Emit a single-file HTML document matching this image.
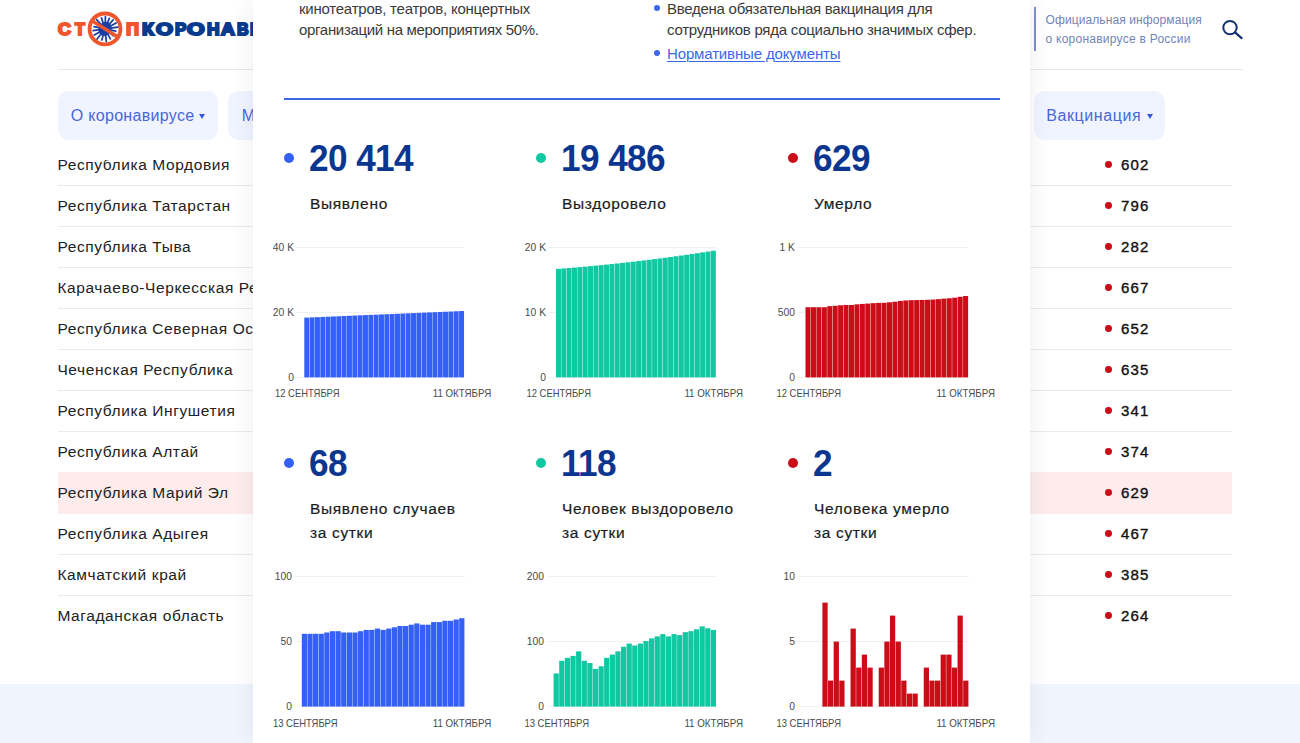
<!DOCTYPE html>
<html lang="ru"><head><meta charset="utf-8"><title>Стопкоронавирус</title>
<style>
*{margin:0;padding:0;box-sizing:border-box}
html,body{width:1300px;height:743px;overflow:hidden;background:#fff;font-family:"Liberation Sans",sans-serif;color:#222}
.abs,.page>*,.modal>*{position:absolute}
.page{position:relative;width:1300px;height:743px;overflow:hidden}
.lg{position:absolute;top:13.7px;font-size:16.5px;font-weight:700;line-height:30px;white-space:nowrap;-webkit-text-stroke:2px currentColor;transform-origin:0 50%}
.lg.o{color:#f0562e} .lg.b{color:#0a3a8c}
.hline{left:58px;top:69px;width:1185px;height:1px;background:#e8e8eb}
.vline{left:1034px;top:7px;width:2px;height:44px;background:#7a92c6}
.info{left:1045.5px;top:11.4px;font-size:12px;line-height:18.3px;color:#6f86b6;white-space:nowrap;letter-spacing:0.1px}
.btn{top:91px;height:49px;border-radius:11px;background:#f0f4fe;color:#4a66d8;font-size:16px;line-height:49px;white-space:nowrap}
.btn span{position:absolute;top:0}
.tri{position:absolute;width:0;height:0;border-left:3px solid transparent;border-right:3px solid transparent;border-top:5.5px solid #3558e0}
.row{left:58px;width:1174px;height:41px;border-bottom:1px solid #ebebee}
.row.last{border-bottom:none}
.row.hl{background:#fdeceb;border-bottom-color:#fdeceb;height:42px;margin-top:-1px}
.row.hl>*{margin-top:1px}
.rn{position:absolute;left:-0.6px;top:-0.8px;line-height:41px;font-size:15.5px;white-space:nowrap;color:#222;letter-spacing:0.6px}
.rd{position:absolute;left:1047.4px;top:16.4px;width:6.8px;height:6.8px;border-radius:50%;background:#cb0d18}
.rv{position:absolute;left:1063px;top:-0.8px;line-height:41px;font-size:15px;color:#111;-webkit-text-stroke:0.38px #111;letter-spacing:1.2px}
.footer{left:0;top:683.5px;width:1300px;height:60px;background:#f0f5fd}
.navcover{left:0;top:140px;width:1300px;height:20.2px;background:#fff}
.modal{left:253px;top:0;width:777px;height:743px;background:#fff;box-shadow:0 0 22px rgba(20,30,70,0.075)}
.mtxt{font-size:15px;line-height:21px;color:#3a3a3a;white-space:nowrap}
.bul{width:6px;height:6px;border-radius:50%;background:#3d67e8}
.bline{left:31px;top:98px;width:715.5px;height:2.4px;background:#3d67e8}
.lnk{color:#3d67e8;text-decoration:underline;text-underline-offset:2px;text-decoration-thickness:1px}
svg.ch{left:-253px;top:0}
.yl{font-size:10.3px;fill:#4a4a4a;font-family:"Liberation Sans",sans-serif}
.xl{font-size:10.3px;fill:#4a4a4a;font-family:"Liberation Sans",sans-serif}
.sd,.sn,.sl{position:absolute}
.sd{width:10px;height:10px;border-radius:50%}
.sn{font-size:36.5px;font-weight:700;line-height:40px;color:#0a368f;white-space:nowrap;letter-spacing:-0.6px;transform-origin:0 50%;transform:scaleX(0.963)}
.sl{font-size:15.5px;line-height:20px;color:#1c1c1c;white-space:nowrap;-webkit-text-stroke:0.2px #1c1c1c;letter-spacing:0.68px}
</style></head>
<body><div class="page">

<!-- header -->
<span class="lg o" style="left:58.18px;transform:scaleX(1.086)">С</span>
<span class="lg o" style="left:74.70px;transform:scaleX(0.978)">Т</span>
<span class="lg o" style="left:126.32px;transform:scaleX(1.097)">П</span>
<span class="lg b" style="left:142.23px;transform:scaleX(1.173)">К</span>
<span class="lg b" style="left:155.91px;transform:scaleX(1.325)">О</span>
<span class="lg b" style="left:175.01px;transform:scaleX(1.024)">Р</span>
<span class="lg b" style="left:187.12px;transform:scaleX(1.370)">О</span>
<span class="lg b" style="left:206.82px;transform:scaleX(1.055)">Н</span>
<span class="lg b" style="left:220.87px;transform:scaleX(1.155)">А</span>
<span class="lg b" style="left:236.91px;transform:scaleX(0.975)">В</span>
<span class="lg b" style="left:250.43px;transform:scaleX(1.104)">И</span>
<svg class="abs" style="left:86.4px;top:9.55px" width="38" height="38" viewBox="0 0 38 38">
  <g stroke="#1a3fa3" stroke-width="1.7" stroke-linecap="round">
    <line x1="19" y1="18.9" x2="19.43" y2="6.51"/><line x1="19" y1="18.9" x2="15.42" y2="7.87"/><line x1="19" y1="18.9" x2="10.44" y2="9.39"/><line x1="19" y1="18.9" x2="23.27" y2="8.33"/><line x1="19" y1="18.9" x2="27.16" y2="9.83"/><line x1="19" y1="18.9" x2="30.13" y2="12.98"/><line x1="19" y1="18.9" x2="31.77" y2="17.10"/><line x1="19" y1="18.9" x2="29.76" y2="21.19"/><line x1="19" y1="18.9" x2="7.12" y2="20.57"/><line x1="19" y1="18.9" x2="8.04" y2="16.57"/><line x1="19" y1="18.9" x2="8.26" y2="25.10"/><line x1="19" y1="18.9" x2="10.87" y2="29.30"/><line x1="19" y1="18.9" x2="15.80" y2="30.05"/><line x1="19" y1="18.9" x2="20.34" y2="31.63"/><line x1="19" y1="18.9" x2="24.35" y2="28.97"/><line x1="19" y1="18.9" x2="27.12" y2="25.71"/>
  </g>
  <ellipse cx="19" cy="18.9" rx="6.3" ry="7.3" transform="rotate(32 19 18.9)" fill="#1a3fa3"/>
  <circle cx="19" cy="18.9" r="15.45" fill="none" stroke="#f0562e" stroke-width="3.9"/>
  <line x1="6.02" y1="10.79" x2="31.98" y2="27.01" stroke="#f0562e" stroke-width="3.6"/>
</svg>
<div class="vline"></div>
<div class="info">Официальная информация<br><span style="letter-spacing:0.25px">о коронавирусе в России</span></div>
<svg class="abs" style="left:1220px;top:16px" width="28" height="28" viewBox="0 0 28 28"><circle cx="10" cy="11.6" r="6.7" fill="none" stroke="#12306f" stroke-width="2"/><line x1="15" y1="16.4" x2="21.6" y2="22.1" stroke="#12306f" stroke-width="2.2" stroke-linecap="round"/></svg>
<div class="hline"></div>

<!-- table rows -->
<div class="row" style="top:145px"><span class="rn">Республика Мордовия</span><i class="rd"></i><span class="rv">602</span></div>
<div class="row" style="top:186px"><span class="rn">Республика Татарстан</span><i class="rd"></i><span class="rv">796</span></div>
<div class="row" style="top:227px"><span class="rn">Республика Тыва</span><i class="rd"></i><span class="rv">282</span></div>
<div class="row" style="top:268px"><span class="rn">Карачаево-Черкесская Республика</span><i class="rd"></i><span class="rv">667</span></div>
<div class="row" style="top:309px"><span class="rn">Республика Северная Осетия</span><i class="rd"></i><span class="rv">652</span></div>
<div class="row" style="top:350px"><span class="rn">Чеченская Республика</span><i class="rd"></i><span class="rv">635</span></div>
<div class="row" style="top:391px"><span class="rn">Республика Ингушетия</span><i class="rd"></i><span class="rv">341</span></div>
<div class="row" style="top:432px"><span class="rn">Республика Алтай</span><i class="rd"></i><span class="rv">374</span></div>
<div class="row hl" style="top:473px"><span class="rn">Республика Марий Эл</span><i class="rd"></i><span class="rv">629</span></div>
<div class="row" style="top:514px"><span class="rn">Республика Адыгея</span><i class="rd"></i><span class="rv">467</span></div>
<div class="row" style="top:555px"><span class="rn">Камчатский край</span><i class="rd"></i><span class="rv">385</span></div>
<div class="row last" style="top:596px"><span class="rn">Магаданская область</span><i class="rd"></i><span class="rv">264</span></div>
<div class="navcover"></div>

<!-- nav -->
<div class="btn" style="left:58px;width:160px"><span style="left:12.7px;letter-spacing:0.32px">О коронавирусе</span><i class="tri" style="left:141.3px;top:23px"></i></div>
<div class="btn" style="left:228px;width:160px"><span style="left:13.7px">Меры</span></div>
<div class="btn" style="left:1034px;width:131px"><span style="left:12.3px;letter-spacing:0.58px">Вакцинация</span><i class="tri" style="left:112.5px;top:23px"></i></div>

<div class="footer"></div>

<!-- modal -->
<div class="modal">
  <div class="mtxt" style="left:46px;top:-2px;letter-spacing:-0.235px">кинотеатров, театров, концертных<br><span style="letter-spacing:-0.32px">организаций на мероприятиях 50%.</span></div>
  <i class="bul" style="left:400.7px;top:5.1px"></i>
  <i class="bul" style="left:400.7px;top:50.1px"></i>
  <div class="mtxt" style="left:414px;top:-2px;letter-spacing:-0.265px">Введена обязательная вакцинация для<br><span style="letter-spacing:-0.245px">сотрудников ряда социально значимых сфер.</span></div>
  <div class="mtxt lnk" style="left:414px;top:43px;letter-spacing:-0.14px">Нормативные документы</div>
  <div class="bline"></div>
  <svg class="ch" width="1300" height="743" viewBox="0 0 1300 743">
<rect x="296.3" y="376.9" width="168.1" height="1" fill="#efefef"/>
<text x="294.0" y="381.0" text-anchor="end" class="yl">0</text>
<rect x="296.3" y="311.9" width="168.1" height="1" fill="#efefef"/>
<text x="294.0" y="316.0" text-anchor="end" class="yl">20 K</text>
<rect x="296.3" y="246.9" width="168.1" height="1" fill="#efefef"/>
<text x="294.0" y="251.0" text-anchor="end" class="yl">40 K</text>
<rect x="304.30" y="317.60" width="4.96" height="59.80" fill="#3560f6"/>
<rect x="309.64" y="317.37" width="4.96" height="60.03" fill="#3560f6"/>
<rect x="314.97" y="317.15" width="4.96" height="60.25" fill="#3560f6"/>
<rect x="320.31" y="316.92" width="4.96" height="60.48" fill="#3560f6"/>
<rect x="325.65" y="316.70" width="4.96" height="60.70" fill="#3560f6"/>
<rect x="330.98" y="316.47" width="4.96" height="60.93" fill="#3560f6"/>
<rect x="336.32" y="316.25" width="4.96" height="61.15" fill="#3560f6"/>
<rect x="341.66" y="316.02" width="4.96" height="61.38" fill="#3560f6"/>
<rect x="346.99" y="315.79" width="4.96" height="61.61" fill="#3560f6"/>
<rect x="352.33" y="315.57" width="4.96" height="61.83" fill="#3560f6"/>
<rect x="357.67" y="315.34" width="4.96" height="62.06" fill="#3560f6"/>
<rect x="363.00" y="315.12" width="4.96" height="62.28" fill="#3560f6"/>
<rect x="368.34" y="314.89" width="4.96" height="62.51" fill="#3560f6"/>
<rect x="373.68" y="314.67" width="4.96" height="62.73" fill="#3560f6"/>
<rect x="379.01" y="314.44" width="4.96" height="62.96" fill="#3560f6"/>
<rect x="384.35" y="314.21" width="4.96" height="63.19" fill="#3560f6"/>
<rect x="389.69" y="313.99" width="4.96" height="63.41" fill="#3560f6"/>
<rect x="395.02" y="313.76" width="4.96" height="63.64" fill="#3560f6"/>
<rect x="400.36" y="313.54" width="4.96" height="63.86" fill="#3560f6"/>
<rect x="405.70" y="313.31" width="4.96" height="64.09" fill="#3560f6"/>
<rect x="411.03" y="313.09" width="4.96" height="64.31" fill="#3560f6"/>
<rect x="416.37" y="312.86" width="4.96" height="64.54" fill="#3560f6"/>
<rect x="421.71" y="312.63" width="4.96" height="64.77" fill="#3560f6"/>
<rect x="427.04" y="312.41" width="4.96" height="64.99" fill="#3560f6"/>
<rect x="432.38" y="312.18" width="4.96" height="65.22" fill="#3560f6"/>
<rect x="437.72" y="311.96" width="4.96" height="65.44" fill="#3560f6"/>
<rect x="443.05" y="311.73" width="4.96" height="65.67" fill="#3560f6"/>
<rect x="448.39" y="311.51" width="4.96" height="65.89" fill="#3560f6"/>
<rect x="453.73" y="311.28" width="4.96" height="66.12" fill="#3560f6"/>
<rect x="459.06" y="311.05" width="4.96" height="66.35" fill="#3560f6"/>
<text x="275.0" y="397.3" class="xl" textLength="64.5" lengthAdjust="spacingAndGlyphs">12 СЕНТЯБРЯ</text>
<text x="491.3" y="397.3" class="xl" text-anchor="end" textLength="58.6" lengthAdjust="spacingAndGlyphs">11 ОКТЯБРЯ</text>
<rect x="548.0" y="376.9" width="168.2" height="1" fill="#efefef"/>
<text x="546.0" y="381.0" text-anchor="end" class="yl">0</text>
<rect x="548.0" y="311.9" width="168.2" height="1" fill="#efefef"/>
<text x="546.0" y="316.0" text-anchor="end" class="yl">10 K</text>
<rect x="548.0" y="246.9" width="168.2" height="1" fill="#efefef"/>
<text x="546.0" y="251.0" text-anchor="end" class="yl">20 K</text>
<rect x="556.00" y="268.85" width="4.96" height="108.55" fill="#10c8a2"/>
<rect x="561.34" y="268.44" width="4.96" height="108.96" fill="#10c8a2"/>
<rect x="566.68" y="268.01" width="4.96" height="109.39" fill="#10c8a2"/>
<rect x="572.02" y="267.56" width="4.96" height="109.84" fill="#10c8a2"/>
<rect x="577.36" y="267.11" width="4.96" height="110.29" fill="#10c8a2"/>
<rect x="582.70" y="266.63" width="4.96" height="110.77" fill="#10c8a2"/>
<rect x="588.04" y="266.14" width="4.96" height="111.26" fill="#10c8a2"/>
<rect x="593.38" y="265.64" width="4.96" height="111.76" fill="#10c8a2"/>
<rect x="598.72" y="265.12" width="4.96" height="112.28" fill="#10c8a2"/>
<rect x="604.06" y="264.59" width="4.96" height="112.81" fill="#10c8a2"/>
<rect x="609.40" y="264.04" width="4.96" height="113.36" fill="#10c8a2"/>
<rect x="614.74" y="263.47" width="4.96" height="113.93" fill="#10c8a2"/>
<rect x="620.08" y="262.89" width="4.96" height="114.51" fill="#10c8a2"/>
<rect x="625.42" y="262.30" width="4.96" height="115.10" fill="#10c8a2"/>
<rect x="630.76" y="261.69" width="4.96" height="115.71" fill="#10c8a2"/>
<rect x="636.10" y="261.07" width="4.96" height="116.33" fill="#10c8a2"/>
<rect x="641.44" y="260.43" width="4.96" height="116.97" fill="#10c8a2"/>
<rect x="646.78" y="259.77" width="4.96" height="117.63" fill="#10c8a2"/>
<rect x="652.12" y="259.10" width="4.96" height="118.30" fill="#10c8a2"/>
<rect x="657.46" y="258.42" width="4.96" height="118.98" fill="#10c8a2"/>
<rect x="662.80" y="257.72" width="4.96" height="119.68" fill="#10c8a2"/>
<rect x="668.14" y="257.00" width="4.96" height="120.40" fill="#10c8a2"/>
<rect x="673.48" y="256.27" width="4.96" height="121.13" fill="#10c8a2"/>
<rect x="678.82" y="255.53" width="4.96" height="121.87" fill="#10c8a2"/>
<rect x="684.16" y="254.77" width="4.96" height="122.63" fill="#10c8a2"/>
<rect x="689.50" y="253.99" width="4.96" height="123.41" fill="#10c8a2"/>
<rect x="694.84" y="253.20" width="4.96" height="124.20" fill="#10c8a2"/>
<rect x="700.18" y="252.40" width="4.96" height="125.00" fill="#10c8a2"/>
<rect x="705.52" y="251.58" width="4.96" height="125.82" fill="#10c8a2"/>
<rect x="710.86" y="250.74" width="4.96" height="126.66" fill="#10c8a2"/>
<text x="526.5" y="397.3" class="xl" textLength="64.5" lengthAdjust="spacingAndGlyphs">12 СЕНТЯБРЯ</text>
<text x="743.0" y="397.3" class="xl" text-anchor="end" textLength="58.6" lengthAdjust="spacingAndGlyphs">11 ОКТЯБРЯ</text>
<rect x="797.5" y="376.9" width="171.0" height="1" fill="#efefef"/>
<text x="795.0" y="381.0" text-anchor="end" class="yl">0</text>
<rect x="797.5" y="311.9" width="171.0" height="1" fill="#efefef"/>
<text x="795.0" y="316.0" text-anchor="end" class="yl">500</text>
<rect x="797.5" y="246.9" width="171.0" height="1" fill="#efefef"/>
<text x="795.0" y="251.0" text-anchor="end" class="yl">1 K</text>
<rect x="805.50" y="307.20" width="5.05" height="70.20" fill="#cb0d18"/>
<rect x="810.93" y="307.20" width="5.05" height="70.20" fill="#cb0d18"/>
<rect x="816.37" y="307.20" width="5.05" height="70.20" fill="#cb0d18"/>
<rect x="821.80" y="307.20" width="5.05" height="70.20" fill="#cb0d18"/>
<rect x="827.23" y="306.16" width="5.05" height="71.24" fill="#cb0d18"/>
<rect x="832.67" y="305.77" width="5.05" height="71.63" fill="#cb0d18"/>
<rect x="838.10" y="305.25" width="5.05" height="72.15" fill="#cb0d18"/>
<rect x="843.53" y="304.99" width="5.05" height="72.41" fill="#cb0d18"/>
<rect x="848.97" y="304.99" width="5.05" height="72.41" fill="#cb0d18"/>
<rect x="854.40" y="304.34" width="5.05" height="73.06" fill="#cb0d18"/>
<rect x="859.83" y="303.95" width="5.05" height="73.45" fill="#cb0d18"/>
<rect x="865.27" y="303.56" width="5.05" height="73.84" fill="#cb0d18"/>
<rect x="870.70" y="303.17" width="5.05" height="74.23" fill="#cb0d18"/>
<rect x="876.13" y="302.91" width="5.05" height="74.49" fill="#cb0d18"/>
<rect x="881.57" y="302.78" width="5.05" height="74.62" fill="#cb0d18"/>
<rect x="887.00" y="302.26" width="5.05" height="75.14" fill="#cb0d18"/>
<rect x="892.43" y="301.74" width="5.05" height="75.66" fill="#cb0d18"/>
<rect x="897.87" y="300.96" width="5.05" height="76.44" fill="#cb0d18"/>
<rect x="903.30" y="300.44" width="5.05" height="76.96" fill="#cb0d18"/>
<rect x="908.73" y="300.18" width="5.05" height="77.22" fill="#cb0d18"/>
<rect x="914.17" y="300.05" width="5.05" height="77.35" fill="#cb0d18"/>
<rect x="919.60" y="299.92" width="5.05" height="77.48" fill="#cb0d18"/>
<rect x="925.03" y="299.79" width="5.05" height="77.61" fill="#cb0d18"/>
<rect x="930.47" y="299.53" width="5.05" height="77.87" fill="#cb0d18"/>
<rect x="935.90" y="299.14" width="5.05" height="78.26" fill="#cb0d18"/>
<rect x="941.33" y="298.62" width="5.05" height="78.78" fill="#cb0d18"/>
<rect x="946.77" y="298.23" width="5.05" height="79.17" fill="#cb0d18"/>
<rect x="952.20" y="297.71" width="5.05" height="79.69" fill="#cb0d18"/>
<rect x="957.63" y="296.80" width="5.05" height="80.60" fill="#cb0d18"/>
<rect x="963.07" y="296.02" width="5.05" height="81.38" fill="#cb0d18"/>
<text x="776.5" y="397.3" class="xl" textLength="64.5" lengthAdjust="spacingAndGlyphs">12 СЕНТЯБРЯ</text>
<text x="995.0" y="397.3" class="xl" text-anchor="end" textLength="58.6" lengthAdjust="spacingAndGlyphs">11 ОКТЯБРЯ</text>
<rect x="296.3" y="706.1" width="168.5" height="1" fill="#efefef"/>
<text x="292.0" y="710.2" text-anchor="end" class="yl">0</text>
<rect x="296.3" y="641.1" width="168.5" height="1" fill="#efefef"/>
<text x="292.0" y="645.2" text-anchor="end" class="yl">50</text>
<rect x="296.3" y="576.1" width="168.5" height="1" fill="#efefef"/>
<text x="292.0" y="580.2" text-anchor="end" class="yl">100</text>
<rect x="301.80" y="633.80" width="5.24" height="72.80" fill="#3560f6"/>
<rect x="307.42" y="633.80" width="5.24" height="72.80" fill="#3560f6"/>
<rect x="313.04" y="633.80" width="5.24" height="72.80" fill="#3560f6"/>
<rect x="318.66" y="633.80" width="5.24" height="72.80" fill="#3560f6"/>
<rect x="324.28" y="632.50" width="5.24" height="74.10" fill="#3560f6"/>
<rect x="329.90" y="631.20" width="5.24" height="75.40" fill="#3560f6"/>
<rect x="335.52" y="631.20" width="5.24" height="75.40" fill="#3560f6"/>
<rect x="341.14" y="632.50" width="5.24" height="74.10" fill="#3560f6"/>
<rect x="346.77" y="632.50" width="5.24" height="74.10" fill="#3560f6"/>
<rect x="352.39" y="632.50" width="5.24" height="74.10" fill="#3560f6"/>
<rect x="358.01" y="631.20" width="5.24" height="75.40" fill="#3560f6"/>
<rect x="363.63" y="629.90" width="5.24" height="76.70" fill="#3560f6"/>
<rect x="369.25" y="629.90" width="5.24" height="76.70" fill="#3560f6"/>
<rect x="374.87" y="628.60" width="5.24" height="78.00" fill="#3560f6"/>
<rect x="380.49" y="629.90" width="5.24" height="76.70" fill="#3560f6"/>
<rect x="386.11" y="628.60" width="5.24" height="78.00" fill="#3560f6"/>
<rect x="391.73" y="627.30" width="5.24" height="79.30" fill="#3560f6"/>
<rect x="397.35" y="626.00" width="5.24" height="80.60" fill="#3560f6"/>
<rect x="402.97" y="626.00" width="5.24" height="80.60" fill="#3560f6"/>
<rect x="408.59" y="624.70" width="5.24" height="81.90" fill="#3560f6"/>
<rect x="414.21" y="623.40" width="5.24" height="83.20" fill="#3560f6"/>
<rect x="419.83" y="624.70" width="5.24" height="81.90" fill="#3560f6"/>
<rect x="425.46" y="624.70" width="5.24" height="81.90" fill="#3560f6"/>
<rect x="431.08" y="622.10" width="5.24" height="84.50" fill="#3560f6"/>
<rect x="436.70" y="622.10" width="5.24" height="84.50" fill="#3560f6"/>
<rect x="442.32" y="620.80" width="5.24" height="85.80" fill="#3560f6"/>
<rect x="447.94" y="620.80" width="5.24" height="85.80" fill="#3560f6"/>
<rect x="453.56" y="619.50" width="5.24" height="87.10" fill="#3560f6"/>
<rect x="459.18" y="618.20" width="5.24" height="88.40" fill="#3560f6"/>
<text x="273.0" y="726.5" class="xl" textLength="64.5" lengthAdjust="spacingAndGlyphs">13 СЕНТЯБРЯ</text>
<text x="491.3" y="726.5" class="xl" text-anchor="end" textLength="58.6" lengthAdjust="spacingAndGlyphs">11 ОКТЯБРЯ</text>
<rect x="548.0" y="706.1" width="168.4" height="1" fill="#efefef"/>
<text x="544.0" y="710.2" text-anchor="end" class="yl">0</text>
<rect x="548.0" y="641.1" width="168.4" height="1" fill="#efefef"/>
<text x="544.0" y="645.2" text-anchor="end" class="yl">100</text>
<rect x="548.0" y="576.1" width="168.4" height="1" fill="#efefef"/>
<text x="544.0" y="580.2" text-anchor="end" class="yl">200</text>
<rect x="553.60" y="673.45" width="5.23" height="33.15" fill="#10c8a2"/>
<rect x="559.21" y="660.77" width="5.23" height="45.83" fill="#10c8a2"/>
<rect x="564.83" y="657.85" width="5.23" height="48.75" fill="#10c8a2"/>
<rect x="570.44" y="655.90" width="5.23" height="50.70" fill="#10c8a2"/>
<rect x="576.06" y="651.35" width="5.23" height="55.25" fill="#10c8a2"/>
<rect x="581.67" y="660.77" width="5.23" height="45.83" fill="#10c8a2"/>
<rect x="587.28" y="663.05" width="5.23" height="43.55" fill="#10c8a2"/>
<rect x="592.90" y="668.90" width="5.23" height="37.70" fill="#10c8a2"/>
<rect x="598.51" y="666.30" width="5.23" height="40.30" fill="#10c8a2"/>
<rect x="604.12" y="657.85" width="5.23" height="48.75" fill="#10c8a2"/>
<rect x="609.74" y="654.60" width="5.23" height="52.00" fill="#10c8a2"/>
<rect x="615.35" y="651.35" width="5.23" height="55.25" fill="#10c8a2"/>
<rect x="620.97" y="646.80" width="5.23" height="59.80" fill="#10c8a2"/>
<rect x="626.58" y="643.55" width="5.23" height="63.05" fill="#10c8a2"/>
<rect x="632.19" y="645.50" width="5.23" height="61.10" fill="#10c8a2"/>
<rect x="637.81" y="643.55" width="5.23" height="63.05" fill="#10c8a2"/>
<rect x="643.42" y="640.95" width="5.23" height="65.65" fill="#10c8a2"/>
<rect x="649.03" y="638.35" width="5.23" height="68.25" fill="#10c8a2"/>
<rect x="654.65" y="636.40" width="5.23" height="70.20" fill="#10c8a2"/>
<rect x="660.26" y="634.12" width="5.23" height="72.47" fill="#10c8a2"/>
<rect x="665.88" y="636.40" width="5.23" height="70.20" fill="#10c8a2"/>
<rect x="671.49" y="634.12" width="5.23" height="72.47" fill="#10c8a2"/>
<rect x="677.10" y="635.10" width="5.23" height="71.50" fill="#10c8a2"/>
<rect x="682.72" y="632.18" width="5.23" height="74.42" fill="#10c8a2"/>
<rect x="688.33" y="631.20" width="5.23" height="75.40" fill="#10c8a2"/>
<rect x="693.94" y="629.25" width="5.23" height="77.35" fill="#10c8a2"/>
<rect x="699.56" y="626.33" width="5.23" height="80.28" fill="#10c8a2"/>
<rect x="705.17" y="628.27" width="5.23" height="78.33" fill="#10c8a2"/>
<rect x="710.79" y="629.90" width="5.23" height="76.70" fill="#10c8a2"/>
<text x="524.5" y="726.5" class="xl" textLength="64.5" lengthAdjust="spacingAndGlyphs">13 СЕНТЯБРЯ</text>
<text x="743.0" y="726.5" class="xl" text-anchor="end" textLength="58.6" lengthAdjust="spacingAndGlyphs">11 ОКТЯБРЯ</text>
<rect x="797.5" y="706.1" width="171.3" height="1" fill="#efefef"/>
<text x="795.0" y="710.2" text-anchor="end" class="yl">0</text>
<rect x="797.5" y="641.1" width="171.3" height="1" fill="#efefef"/>
<text x="795.0" y="645.2" text-anchor="end" class="yl">5</text>
<rect x="797.5" y="576.1" width="171.3" height="1" fill="#efefef"/>
<text x="795.0" y="580.2" text-anchor="end" class="yl">10</text>
<rect x="822.39" y="602.60" width="5.25" height="104.00" fill="#cb0d18"/>
<rect x="828.02" y="680.60" width="5.25" height="26.00" fill="#cb0d18"/>
<rect x="833.66" y="641.60" width="5.25" height="65.00" fill="#cb0d18"/>
<rect x="839.29" y="680.60" width="5.25" height="26.00" fill="#cb0d18"/>
<rect x="850.55" y="628.60" width="5.25" height="78.00" fill="#cb0d18"/>
<rect x="856.18" y="667.60" width="5.25" height="39.00" fill="#cb0d18"/>
<rect x="861.81" y="654.60" width="5.25" height="52.00" fill="#cb0d18"/>
<rect x="867.44" y="667.60" width="5.25" height="39.00" fill="#cb0d18"/>
<rect x="878.70" y="667.60" width="5.25" height="39.00" fill="#cb0d18"/>
<rect x="884.33" y="641.60" width="5.25" height="65.00" fill="#cb0d18"/>
<rect x="889.97" y="615.60" width="5.25" height="91.00" fill="#cb0d18"/>
<rect x="895.60" y="641.60" width="5.25" height="65.00" fill="#cb0d18"/>
<rect x="901.23" y="680.60" width="5.25" height="26.00" fill="#cb0d18"/>
<rect x="906.86" y="693.60" width="5.25" height="13.00" fill="#cb0d18"/>
<rect x="912.49" y="693.60" width="5.25" height="13.00" fill="#cb0d18"/>
<rect x="923.75" y="667.60" width="5.25" height="39.00" fill="#cb0d18"/>
<rect x="929.38" y="680.60" width="5.25" height="26.00" fill="#cb0d18"/>
<rect x="935.01" y="680.60" width="5.25" height="26.00" fill="#cb0d18"/>
<rect x="940.64" y="654.60" width="5.25" height="52.00" fill="#cb0d18"/>
<rect x="946.28" y="654.60" width="5.25" height="52.00" fill="#cb0d18"/>
<rect x="951.91" y="667.60" width="5.25" height="39.00" fill="#cb0d18"/>
<rect x="957.54" y="615.60" width="5.25" height="91.00" fill="#cb0d18"/>
<rect x="963.17" y="680.60" width="5.25" height="26.00" fill="#cb0d18"/>
<text x="776.5" y="726.5" class="xl" textLength="64.5" lengthAdjust="spacingAndGlyphs">13 СЕНТЯБРЯ</text>
<text x="995.0" y="726.5" class="xl" text-anchor="end" textLength="58.6" lengthAdjust="spacingAndGlyphs">11 ОКТЯБРЯ</text>
  </svg>
  <div style="left:-253px;top:0;width:0;height:0">
<i class="sd" style="left:284.2px;top:153.1px;background:#3560f6"></i>
<div class="sn" style="left:309.3px;top:138.9px">20 414</div>
<div class="sl" style="left:309.9px;top:193.5px">Выявлено</div>
<i class="sd" style="left:536.2px;top:153.1px;background:#10c8a2"></i>
<div class="sn" style="left:561.3px;top:138.9px">19 486</div>
<div class="sl" style="left:561.9px;top:193.5px">Выздоровело</div>
<i class="sd" style="left:788.2px;top:153.1px;background:#cb0d18"></i>
<div class="sn" style="left:813.3px;top:138.9px">629</div>
<div class="sl" style="left:813.9px;top:193.5px">Умерло</div>
<i class="sd" style="left:284.2px;top:458.1px;background:#3560f6"></i>
<div class="sn" style="left:309.3px;top:443.9px">68</div>
<div class="sl" style="left:309.9px;top:498.5px">Выявлено случаев</div>
<div class="sl" style="left:309.9px;top:522.8px">за сутки</div>
<i class="sd" style="left:536.2px;top:458.1px;background:#10c8a2"></i>
<div class="sn" style="left:561.3px;top:443.9px">118</div>
<div class="sl" style="left:561.9px;top:498.5px">Человек выздоровело</div>
<div class="sl" style="left:561.9px;top:522.8px">за сутки</div>
<i class="sd" style="left:788.2px;top:458.1px;background:#cb0d18"></i>
<div class="sn" style="left:813.3px;top:443.9px">2</div>
<div class="sl" style="left:813.9px;top:498.5px">Человека умерло</div>
<div class="sl" style="left:813.9px;top:522.8px">за сутки</div>
  </div>
</div>

</div></body></html>
